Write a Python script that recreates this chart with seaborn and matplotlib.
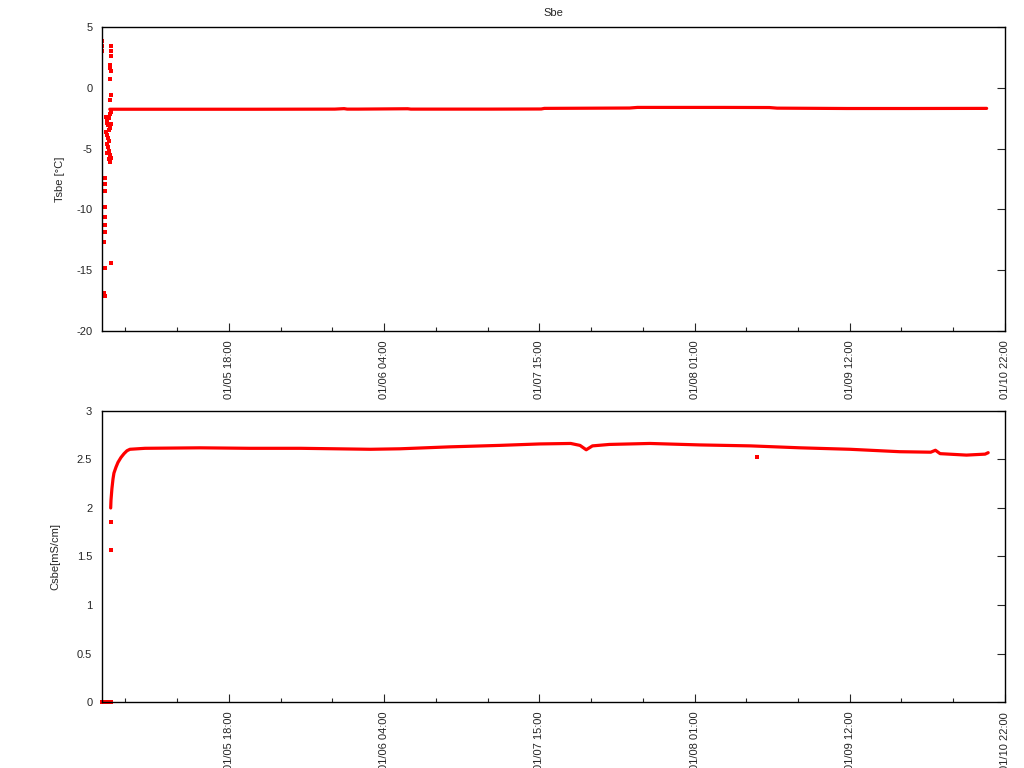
import numpy as np
import pandas as pd
import matplotlib
matplotlib.use("Agg")
import matplotlib.pyplot as plt
import seaborn as sns

# x positions are in "tick units": one major tick step = 1.0, axis starts at 0
tick_pos = [0.818, 1.818, 2.818, 3.818, 4.818, 5.818]
tick_labels = ["01/05 18:00", "01/06 04:00", "01/07 15:00",
               "01/08 01:00", "01/09 12:00", "01/10 22:00"]

# Tsbe main trace
t_x = [0.05, 0.5, 1.0, 1.5, 1.56, 1.58, 1.65, 1.97, 1.99, 2.5, 2.83, 2.85,
       3.40, 3.45, 4.0, 4.30, 4.35, 4.8, 5.2, 5.70]
t_y = [-1.77, -1.77, -1.77, -1.76, -1.72, -1.76, -1.76, -1.73, -1.76, -1.76,
       -1.75, -1.70, -1.67, -1.62, -1.62, -1.63, -1.68, -1.71, -1.71, -1.70]

# Tsbe start-up scatter
ts_x = [0.0, 0.0, 0.0, 0.06, 0.06, 0.06, 0.053, 0.053, 0.06, 0.053, 0.06, 0.053,
        0.025, 0.03, 0.035, 0.04, 0.045, 0.05, 0.055, 0.028, 0.033, 0.038,
        0.043, 0.048, 0.052, 0.056, 0.03, 0.037, 0.044, 0.05, 0.057, 0.035,
        0.042, 0.049,
        0.019, 0.019, 0.019, 0.019, 0.019, 0.019, 0.019, 0.015, 0.06, 0.019,
        0.015, 0.019]
ts_y = [3.8, 3.4, 3.0, 3.4, 3.0, 2.6, 1.9, 1.6, 1.4, 0.7, -0.6, -1.0,
        -2.4, -2.7, -2.9, -3.1, -2.5, -2.2, -2.0, -3.6, -3.9, -4.1,
        -4.4, -3.5, -3.3, -3.0, -4.6, -4.9, -5.2, -5.5, -5.8, -5.4,
        -5.9, -6.1,
        -7.4, -7.9, -8.5, -9.8, -10.65, -11.3, -11.9, -12.7, -14.4, -14.8,
        -16.9, -17.1]

# Csbe main trace
c_x = [0.056, 0.058, 0.064, 0.071, 0.077, 0.09, 0.103, 0.122, 0.142, 0.161,
       0.18, 0.277, 0.63, 0.95, 1.28, 1.73, 1.92, 2.24, 2.56, 2.82, 3.02,
       3.08, 3.12, 3.16, 3.27, 3.53, 3.85, 4.18, 4.50, 4.82, 5.14, 5.34,
       5.37, 5.40, 5.57, 5.69, 5.71]
c_y = [2.0, 2.08, 2.2, 2.3, 2.36, 2.42, 2.47, 2.52, 2.56, 2.59,
       2.605, 2.615, 2.62, 2.615, 2.615, 2.605, 2.61, 2.63, 2.645, 2.66, 2.665,
       2.645, 2.60, 2.64, 2.655, 2.665, 2.65, 2.64, 2.62, 2.605, 2.58, 2.575,
       2.595, 2.56, 2.545, 2.555, 2.57]

# Csbe outliers and zero readings
cs_x = [0.058, 0.058, 4.22, 0.0, 0.015, 0.03, 0.045, 0.06]
cs_y = [1.86, 1.57, 2.53, 0.0, 0.0, 0.0, 0.0, 0.0]

sns.set_style("white")
plt.rcParams["font.family"] = ["Liberation Sans", "DejaVu Sans"]
plt.rcParams["axes.unicode_minus"] = False

fig = plt.figure(figsize=(10.24, 7.68), dpi=100)
ax1 = fig.add_axes([0.0996, 0.569, 0.8818, 0.396])
ax2 = fig.add_axes([0.0996, 0.0859, 0.8818, 0.379])

red = "#ff0000"

sns.lineplot(x=t_x, y=t_y, ax=ax1, color=red, lw=2.3, estimator=None, sort=False)
sns.scatterplot(x=ts_x, y=ts_y, ax=ax1, color=red, marker="s", s=7,
                linewidth=0, clip_on=True)
sns.lineplot(x=c_x, y=c_y, ax=ax2, color=red, lw=2.3, estimator=None, sort=False)
sns.scatterplot(x=cs_x, y=cs_y, ax=ax2, color=red, marker="s", s=7,
                linewidth=0, clip_on=False)

ax1.set_ylim(-20, 5)
ax1.set_yticks([-20, -15, -10, -5, 0, 5])
ax2.set_ylim(0, 3)
ax2.set_yticks([0, 0.5, 1, 1.5, 2, 2.5, 3])
ax2.set_yticklabels(["0", "0.5", "1", "1.5", "2", "2.5", "3"])

for ax in (ax1, ax2):
    ax.set_xlim(0, 5.818)
    ax.set_xticks(tick_pos)
    ax.set_xticklabels(tick_labels, rotation=90, fontsize=8)
    ax.set_xticks(np.arange(1, 18) / 3.0 - 0.182, minor=True)
    ax.tick_params(axis="both", which="major", direction="in", length=6,
                   width=0.8, labelsize=8, right=True, bottom=True)
    ax.tick_params(axis="x", which="minor", direction="in", length=3,
                   width=0.8, bottom=True)
    ax.tick_params(axis="x", which="major", pad=7)
    ax.tick_params(axis="y", which="major", pad=7)
    for s in ax.spines.values():
        s.set_linewidth(1.0)
        s.set_color("black")

ax1.set_title("Sbe", fontsize=8, pad=8)
ax1.set_ylabel("Tsbe [°C]", fontsize=8, labelpad=8)
ax2.set_ylabel("Csbe[mS/cm]", fontsize=8, labelpad=12)

fig.savefig("out.png", dpi=100)
